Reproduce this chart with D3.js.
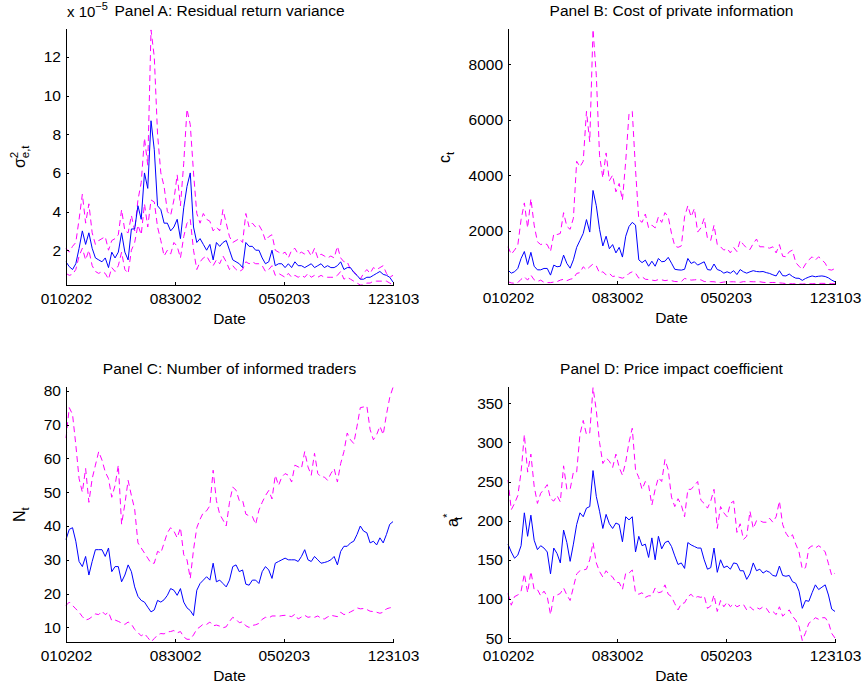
<!DOCTYPE html>
<html>
<head>
<meta charset="utf-8">
<script src="https://cdnjs.cloudflare.com/ajax/libs/d3/7.8.5/d3.min.js"></script>
<style>
  body { margin:0; background:#fff; }
  svg text { font-family: "Liberation Sans", Arial, sans-serif; fill:#000; }
  .axis path, .axis line { stroke:#000; stroke-width:1; shape-rendering:crispEdges; }
  .axis text { font-size:15.5px; }
  .mid { fill:none; stroke:#0000ff; stroke-width:1; }
  .band { fill:none; stroke:#ff00ff; stroke-width:1; stroke-dasharray:6,4; }
</style>
</head>
<body>
<script>

// one point every 5 trading days, 010202 .. 123103
var days = d3.range(0, 501, 5)
var dateTicks = [0, 167, 333, 500]
var dateLabels = ["010202", "083002", "050203", "123103"]

// Panel A: residual return variance (x 10^-5)
var aMid = [1.4,1.15,1.0,1.3,2.1,3.0,2.3,2.9,2.1,1.6,
  1.5,1.4,1.6,1.1,1.9,1.6,1.9,2.9,1.9,1.5,
  3.1,3.1,4.3,3.6,6.0,5.2,8.7,7.2,4.3,4.1,
  3.4,3.4,3.0,3.2,3.6,2.6,4.2,5.3,6.0,3.2,
  2.4,2.6,2.3,2.0,2.3,1.5,2.4,2.2,2.4,2.5,
  2.0,1.5,1.4,1.3,1.1,2.4,2.2,2.2,2.0,2.0,
  1.6,1.3,1.4,2.0,1.2,1.3,1.3,1.1,1.3,1.1,
  1.4,1.2,1.2,1.1,1.2,1.3,1.1,1.2,1.3,1.1,
  1.2,1.1,1.1,1.2,1.4,1.0,1.1,1.1,0.85,0.7,
  0.5,0.5,0.6,0.6,0.7,0.8,0.9,0.75,0.7,0.6,
  0.35]
var aUp = [2.1,1.9,2.2,2.4,3.6,4.9,3.4,4.4,2.9,2.3,
  2.5,2.6,2.7,2.0,2.5,2.6,2.8,4.1,3.0,2.9,
  3.8,3.0,4.6,5.5,7.8,6.4,13.4,12.0,8.0,6.0,
  5.3,4.0,3.8,4.6,5.9,4.3,6.5,9.3,8.5,6.0,
  3.9,3.4,3.9,3.6,3.5,3.0,3.2,3.0,4.1,3.4,
  2.7,2.4,2.5,2.6,2.4,3.9,3.2,3.4,3.2,3.3,
  3.0,2.5,2.7,2.8,2.0,1.9,1.8,1.9,1.6,2.0,
  2.1,1.8,1.9,1.8,2.0,1.7,2.1,1.6,1.8,1.7,
  1.6,1.7,1.6,2.2,1.6,1.4,1.4,1.0,0.9,0.7,
  0.5,0.8,1.0,0.8,1.1,1.0,1.1,1.2,0.8,0.6,
  0.7]
var aLow = [0.8,0.7,0.75,1.0,1.7,2.1,1.5,2.0,1.2,0.9,
  0.8,0.9,0.8,0.5,1.1,0.9,1.2,1.9,1.0,0.8,
  2.0,2.4,3.3,2.8,4.4,3.2,4.6,4.5,3.2,2.5,
  1.7,2.0,1.8,2.4,2.2,1.6,2.7,3.4,3.6,2.0,
  1.0,1.4,1.6,1.7,1.4,1.2,1.5,1.3,1.7,1.4,
  1.0,1.2,1.0,0.9,1.0,1.4,1.3,1.4,1.3,1.3,
  1.2,0.9,1.0,1.2,0.7,0.8,0.7,0.6,0.8,0.6,
  0.7,0.6,0.7,0.6,0.8,0.6,0.7,0.6,0.7,0.6,
  0.6,0.6,0.6,0.7,0.9,0.5,0.6,0.5,0.4,0.3,
  0.2,0.2,0.3,0.3,0.4,0.4,0.4,0.4,0.4,0.3,
  0.2]

// Panel B: cost of private information
var bMid = [580,470,520,640,1000,1250,780,1220,720,590,
  590,640,640,400,760,700,720,1120,820,650,
  950,1400,1650,1900,2400,1950,3450,2900,2050,1450,
  1800,1350,1500,1200,1400,1050,1800,2150,2300,2200,
  950,850,940,720,900,720,1000,880,900,1040,
  830,610,590,580,610,1000,820,880,760,820,
  880,600,580,800,600,560,470,520,470,560,
  420,600,520,470,520,560,530,520,530,490,
  460,410,370,560,380,370,440,350,290,285,
  210,280,330,370,340,360,370,350,300,220,
  160]
var bUp = [1420,1150,1300,1480,2400,3000,2100,3150,2200,1600,
  1500,1540,1500,1250,1880,1860,1900,2650,2150,2050,
  2450,4500,4300,4500,6300,5200,9250,7600,4700,3900,
  4800,3800,4000,3400,3700,3100,4500,6200,6300,4200,
  2400,2300,2600,2100,2200,2100,2500,2300,2650,2500,
  1900,1450,1400,1450,2500,2900,2500,2800,1950,2100,
  2450,1720,1650,2200,1500,1420,1300,1360,1200,1400,
  1250,1650,1500,1370,1320,1540,1700,1420,1420,1400,
  1370,1420,1200,1500,1080,1060,1240,1300,850,720,
  600,800,950,1060,940,1060,950,830,600,580,
  640]
var bLow = [160,120,105,130,250,340,220,400,230,170,
  220,140,130,130,150,165,220,250,200,250,
  280,460,490,700,590,700,800,730,480,520,
  410,460,350,370,320,290,340,460,520,470,
  290,340,250,240,220,200,240,230,200,220,
  200,170,165,170,280,250,220,230,240,230,
  170,165,165,160,140,130,150,165,160,160,
  150,140,165,160,165,160,160,160,140,130,
  130,135,130,120,110,95,90,90,90,85,
  80,90,90,90,95,100,104,100,95,92,
  90]

// Panel C: number of informed traders
var cMid = [36,39,39.5,35.5,29.5,28,31,25.5,29.5,33,
  33,33,31,33.5,26.5,28,28,23.5,25.5,28.5,
  26.5,22,19.2,18,17.5,16,14.6,15.2,18,17.5,
  18.2,19.5,21.5,21,19.5,21.5,17.5,15.8,15,13.5,
  21,23,24,25,24,29,23.5,24,23,22,
  24,28,28.5,26.5,27,22.8,22.5,24,24,23,
  26.5,28,27,24.5,29,29.5,30,30.5,30,30,
  30,29.5,31,33,30,29.5,31,30,29,29.2,
  29.5,30,31,28.5,32.5,34,34,35,35.5,37.5,
  40,38.5,38,35,35.5,34.4,36.5,35,37.5,40.5,
  41.3]
var cUp = [66,75,73,64,54,50,57,47,54,58,
  62,59.5,56,54,48.5,52,58,40.5,46.5,53.5,
  49,45,35,33.5,32,30.5,29,29,32.5,32,
  35,38,39.5,38.5,36.5,39.5,31.5,30,24.5,33,
  39.5,42,44,44.5,46,56.5,47.5,43.5,41.8,40,
  47,51.5,50.6,47.5,47.6,43.5,43,42.8,40.5,44.7,
  47,49,50.5,48,55,52,54.5,55.5,55,53,
  58,57.5,57,62,57.5,55,61.5,55.5,54.5,54.5,
  53.5,55.5,57,53,58.5,62,67.5,65.5,64.4,69.5,
  75,75.2,75.5,68.5,65.5,67,69.5,67,73,78,
  81]
var cLow = [16.5,17.5,16.5,15.5,14.5,13.2,12.2,12.5,13.2,14,
  13.8,14.8,13.8,14.5,12,12.2,11.8,11.3,10.9,11.6,
  11,9.4,8.5,7.5,8.2,7,5.8,6.7,7.8,8.2,
  8.1,8.7,8.8,9.1,8.4,8.8,7.2,6.5,6.5,7.8,
  9.5,10.2,11,10.9,11.6,10.5,10.7,10.4,9.9,10.2,
  11.8,13,12.4,11.4,11.7,10.5,10,10.6,10.8,11.2,
  12.4,13,12.8,13.4,13.4,13.3,13.5,13.6,13.4,13.2,
  13.9,12.5,13.1,13.6,13,13.2,13,13.4,12.7,12.5,
  13.1,13.6,13.4,13.2,14.5,13.8,14.1,14.6,15.1,15.8,
  15.5,15.6,15.3,14.8,14.7,14.5,14.2,14.5,15.5,15.8,
  16]

// Panel D: price impact coefficient
var dMid = [170,160,152,156,168,210,180,207,175,163,
  168,165,160,132,165,158,146,188,172,148,
  170,195,210,205,216,218,264,231,212,190,
  208,196,190,197,195,173,205,201,205,160,
  180,168,170,153,178,150,180,164,172,174,
  167,155,144,146,139,172,169,167,165,165,
  150,138,140,165,134,150,140,142,138,146,
  145,136,136,125,132,146,136,138,133,136,
  134,130,129,142,130,129,130,122,120,110,
  88,98,97,108,118,112,115,118,105,87,
  84]
var dUp = [252,214,222,232,262,310,262,285,244,222,
  235,240,246,228,225,232,224,270,240,240,
  262,262,310,328,310,312,370,341,300,273,
  280,276,268,285,268,258,275,300,318,265,
  255,240,250,245,220,240,255,250,278,265,
  230,218,228,220,205,240,240,245,250,226,
  222,216,225,240,190,218,210,205,222,225,
  185,196,176,180,212,190,200,200,198,198,
  203,198,205,225,195,184,178,182,170,160,
  138,140,165,168,165,168,165,160,145,130,
  133]
var dLow = [107,92,103,105,110,132,108,135,112,112,
  104,110,103,80,104,105,107,114,105,98,
  115,132,136,137,138,150,172,146,135,128,
  136,131,128,121,121,112,133,133,137,108,
  106,108,102,104,104,114,108,109,118,106,
  103,94,86,94,95,103,106,101,103,102,
  104,88,91,105,84,98,90,96,90,94,
  90,92,93,86,90,86,89,87,90,88,
  82,84,80,90,78,82,86,78,73,65,
  47,57,69,72,76,74,76,76,70,56,
  50]

var panels = [
  {title:"Panel A: Residual return variance", left:66, top:28, w:327, h:257,
   ylim:[0.2,13.5], yticks:[2,4,6,8,10,12], mid:aMid, up:aUp, low:aLow},
  {title:"Panel B: Cost of private information", left:508, top:28, w:327, h:256,
   ylim:[80,9300], yticks:[2000,4000,6000,8000], mid:bMid, up:bUp, low:bLow},
  {title:"Panel C: Number of informed traders", left:66, top:386, w:327, h:256,
   ylim:[5.7,81.4], yticks:[10,20,30,40,50,60,70,80], mid:cMid, up:cUp, low:cLow},
  {title:"Panel D: Price impact coefficient", left:508, top:386, w:327, h:256,
   ylim:[45,372], yticks:[50,100,150,200,250,300,350], mid:dMid, up:dUp, low:dLow}
]

var svg = d3.select("body").append("svg")
  .attr("width", 865)
  .attr("height", 687)

panels.forEach(function(p) {
  var g = svg.append("g").attr("transform", "translate(" + p.left + "," + p.top + ")")

  var x = d3.scaleLinear().domain([0, 500]).range([0, p.w])
  var y = d3.scaleLinear().domain(p.ylim).range([p.h, 0])

  var line = d3.line()
    .x(function(d, i) { return x(days[i]) })
    .y(function(d) { return y(d) })

  g.append("path").datum(p.up).attr("class", "band").attr("d", line)
  g.append("path").datum(p.low).attr("class", "band").attr("d", line)
  g.append("path").datum(p.mid).attr("class", "mid").attr("d", line)

  g.append("g").attr("class", "axis")
    .attr("transform", "translate(0," + p.h + ")")
    .call(d3.axisBottom(x).tickValues(dateTicks)
      .tickFormat(function(d, i) { return dateLabels[i] })
      .tickSizeInner(-3).tickSizeOuter(0).tickPadding(8))

  g.append("g").attr("class", "axis")
    .call(d3.axisLeft(y).tickValues(p.yticks)
      .tickFormat(d3.format("d"))
      .tickSizeInner(-3).tickSizeOuter(0).tickPadding(5))

  g.append("text")
    .attr("x", p.w / 2).attr("y", -12)
    .attr("text-anchor", "middle")
    .style("font-size", "15.5px")
    .text(p.title)

  g.append("text")
    .attr("x", p.w / 2).attr("y", p.h + 38.5)
    .attr("text-anchor", "middle")
    .style("font-size", "15.5px")
    .text("Date")
})

// exponent note for panel A
var ex = svg.append("text").attr("x", 67).attr("y", 16.5).style("font-size", "15px")
ex.append("tspan").text("x 10")
ex.append("tspan").attr("dy", -7).style("font-size", "11px").text("\u22125")

// y labels
function ylab(tx, ty, main, sup, sub) {
  var t = svg.append("text")
    .attr("transform", "translate(" + tx + "," + ty + ") rotate(-90)")
    .style("font-size", "16px")
  t.append("tspan").text(main)
  if (sup) {
    t.append("tspan").attr("dy", -7).style("font-size", "11.5px").text(sup)
    t.append("tspan").attr("dx", -6.5).attr("dy", 11).style("font-size", "11.5px").text(sub)
  } else {
    t.append("tspan").attr("dy", 4).style("font-size", "11.5px").text(sub)
  }
}
ylab(25, 168, "\u03c3", "2", "e,t")
ylab(450, 163, "c", null, "t")
ylab(25, 522, "N", null, "t")
ylab(458, 527, "a", "*", "t")

</script>
</body>
</html>
